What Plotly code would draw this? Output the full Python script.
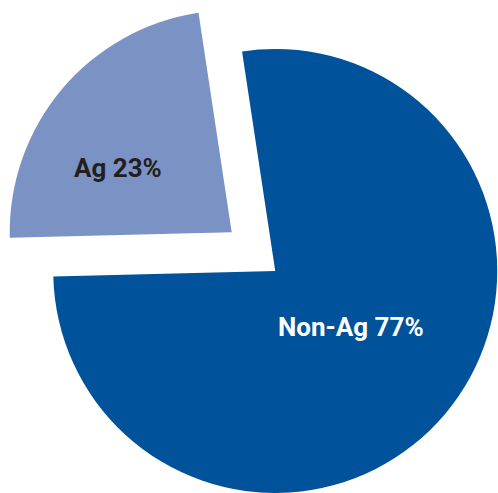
import plotly.graph_objects as go

# Share of total by sector
labels = ["Non-Ag", "Ag"]
values = [77, 23]

dark_blue = "#00529b"
light_blue = "#7b93c4"
clear = "rgba(0,0,0,0)"
label_font = "Roboto, Liberation Sans, Arial, sans-serif"

texts = [f"{lab} {val}%" for lab, val in zip(labels, values)]

W, H = 498, 493
rotation = -8.6

fig = go.Figure()

# Main body of the pie (Non-Ag slice)
fig.add_trace(go.Pie(
    labels=labels,
    values=values,
    sort=False,
    direction="clockwise",
    rotation=rotation,
    marker=dict(colors=[dark_blue, clear], line=dict(width=0)),
    textinfo="none",
    hoverinfo="skip",
    domain=dict(x=[52.5 / W, 1.0], y=[0.0, 444 / H]),
    showlegend=False,
))

# Exploded Ag slice, offset up and to the left
fig.add_trace(go.Pie(
    labels=labels,
    values=values,
    sort=False,
    direction="clockwise",
    rotation=rotation,
    marker=dict(colors=[clear, light_blue], line=dict(width=0)),
    textinfo="none",
    hoverinfo="skip",
    domain=dict(x=[9.7 / W, 453.7 / W], y=[38.7 / H, 482.7 / H]),
    showlegend=False,
))

# Slice labels
label_pos = {"Non-Ag": (350.5 / W, 1 - 327 / H), "Ag": (118 / W, 1 - 168 / H)}
label_color = {"Non-Ag": "white", "Ag": "#231f20"}
for lab, txt in zip(labels, texts):
    x, y = label_pos[lab]
    fig.add_annotation(
        x=x, y=y, xref="paper", yref="paper",
        text=txt, showarrow=False,
        xanchor="center", yanchor="middle",
        font=dict(family=label_font, size=26, color=label_color[lab], weight="bold"),
    )

fig.update_layout(
    width=W,
    height=H,
    margin=dict(l=0, r=0, t=0, b=0),
    paper_bgcolor="white",
    plot_bgcolor="white",
    font=dict(family=label_font),
)

fig.write_html("out.html")
